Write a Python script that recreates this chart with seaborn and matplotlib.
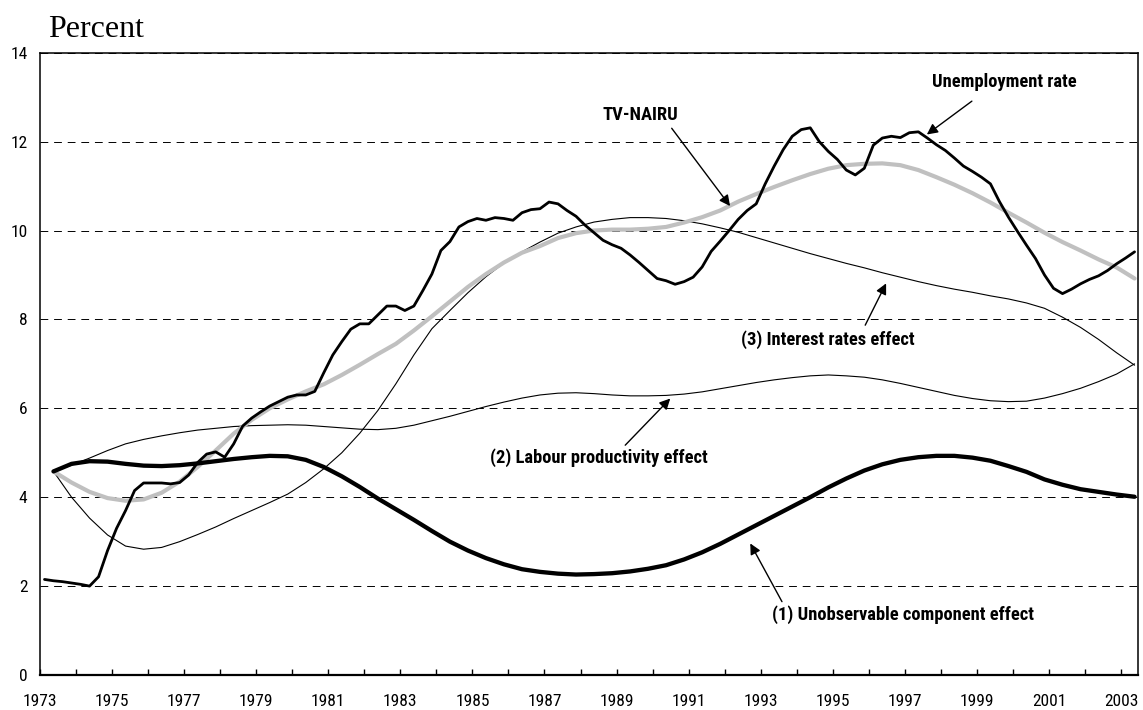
import numpy as np
import matplotlib
matplotlib.use("Agg")
import matplotlib.pyplot as plt
from matplotlib import font_manager as fm
import seaborn as sns

# ---------------- data ----------------
start_year = 1973
# quarterly unemployment rate, 1973Q1 .. 2003Q2
unemployment = [
    2.15, 2.12, 2.10, 2.07, 2.04, 2.00, 2.21, 2.80, 3.30, 3.70,
    4.15, 4.32, 4.32, 4.32, 4.30, 4.33, 4.50, 4.78, 4.97, 5.02,
    4.90, 5.20, 5.60, 5.78, 5.92, 6.05, 6.15, 6.25, 6.30, 6.30,
    6.38, 6.80, 7.20, 7.50, 7.78, 7.90, 7.90, 8.10, 8.30, 8.30,
    8.20, 8.30, 8.65, 9.02, 9.55, 9.75, 10.08, 10.20, 10.27, 10.23,
    10.29, 10.27, 10.23, 10.40, 10.47, 10.49, 10.64, 10.60, 10.45, 10.32,
    10.12, 9.95, 9.78, 9.68, 9.60, 9.45, 9.28, 9.10, 8.92, 8.87,
    8.79, 8.85, 8.95, 9.18, 9.53, 9.76, 10.00, 10.25, 10.45, 10.60,
    11.05, 11.45, 11.82, 12.12, 12.27, 12.31, 12.00, 11.78, 11.60, 11.36,
    11.25, 11.40, 11.92, 12.08, 12.12, 12.09, 12.20, 12.22, 12.08, 11.93,
    11.80, 11.63, 11.45, 11.33, 11.20, 11.05, 10.65, 10.30, 9.98, 9.67,
    9.37, 9.00, 8.70, 8.58, 8.68, 8.80, 8.90, 8.98, 9.10, 9.25,
    9.38, 9.52,
]
# half-yearly readings (1973Q2, 1973Q4, ... 2003Q2)
tv_nairu = [
    4.58, 4.33, 4.12, 3.98, 3.92, 3.95, 4.10, 4.35, 4.68, 5.05,
    5.43, 5.74, 6.00, 6.20, 6.38, 6.54, 6.75, 6.98, 7.22, 7.45,
    7.75, 8.07, 8.40, 8.73, 9.02, 9.28, 9.50, 9.65, 9.83, 9.94,
    10.00, 10.02, 10.02, 10.04, 10.08, 10.18, 10.30, 10.45, 10.65, 10.82,
    10.98, 11.13, 11.27, 11.39, 11.47, 11.50, 11.51, 11.47, 11.36, 11.20,
    11.03, 10.84, 10.63, 10.40, 10.18, 9.95, 9.74, 9.55, 9.35, 9.17,
    8.92,
]
unobservable = [
    4.58, 4.75, 4.81, 4.80, 4.75, 4.71, 4.70, 4.72, 4.76, 4.81,
    4.86, 4.90, 4.93, 4.92, 4.84, 4.68, 4.47, 4.23, 3.97, 3.73,
    3.49, 3.24, 3.00, 2.80, 2.63, 2.49, 2.38, 2.32, 2.28, 2.26,
    2.27, 2.29, 2.33, 2.39, 2.47, 2.60, 2.76, 2.95, 3.16, 3.37,
    3.58, 3.79, 4.00, 4.22, 4.42, 4.60, 4.74, 4.84, 4.90, 4.93,
    4.93, 4.89, 4.82, 4.70, 4.57, 4.40, 4.28, 4.18, 4.12, 4.06,
    4.01,
]
labour_productivity = [
    4.58, 4.72, 4.88, 5.05, 5.20, 5.30, 5.38, 5.45, 5.51, 5.55,
    5.59, 5.61, 5.62, 5.63, 5.62, 5.59, 5.56, 5.53, 5.52, 5.55,
    5.62, 5.72, 5.82, 5.93, 6.04, 6.14, 6.23, 6.30, 6.34, 6.35,
    6.33, 6.30, 6.28, 6.28, 6.29, 6.32, 6.37, 6.44, 6.51, 6.58,
    6.64, 6.69, 6.73, 6.75, 6.73, 6.70, 6.64, 6.56, 6.47, 6.38,
    6.29, 6.22, 6.17, 6.15, 6.16, 6.23, 6.33, 6.45, 6.60, 6.77,
    7.00,
]
interest_rates = [
    4.58, 4.00, 3.53, 3.15, 2.90, 2.83, 2.87, 3.00, 3.16, 3.33,
    3.52, 3.70, 3.88, 4.07, 4.33, 4.64, 5.00, 5.44, 5.95, 6.55,
    7.20, 7.79, 8.20, 8.60, 8.96, 9.27, 9.52, 9.74, 9.94, 10.08,
    10.19, 10.25, 10.29, 10.29, 10.27, 10.22, 10.15, 10.06, 9.96, 9.84,
    9.72, 9.60, 9.48, 9.37, 9.26, 9.16, 9.05, 8.95, 8.85, 8.76,
    8.68, 8.61, 8.53, 8.46, 8.37, 8.25, 8.05, 7.82, 7.55, 7.25,
    6.97,
]
year_labels = [str(y) for y in range(1973, 2004, 2)]
y_ticks = [0, 2, 4, 6, 8, 10, 12, 14]

# time index: quarter midpoints
x_q = start_year + (np.arange(len(unemployment)) + 0.5) / 4.0
x_h = start_year + (np.arange(len(tv_nairu)) * 2 + 1.5) / 4.0

# ---------------- style ----------------
sns.set_theme(style="white")


def pick(cands):
    for c in cands:
        try:
            fm.findfont(fm.FontProperties(family=c), fallback_to_default=False)
            return c
        except Exception:
            pass
    return "DejaVu Sans"


narrow = pick(["Liberation Sans Narrow", "Arial Narrow", "Roboto Condensed",
               "Liberation Sans", "DejaVu Sans"])
serif = pick(["Liberation Serif", "DejaVu Serif"])
plt.rcParams["font.family"] = [narrow, "DejaVu Sans"]

fig = plt.figure(figsize=(11.43, 7.10), dpi=100)
ax = fig.add_axes([40 / 1143, 35 / 710, 1098 / 1143, 622.3 / 710])

# lines
sns.lineplot(x=x_h, y=interest_rates, ax=ax, color="black", linewidth=0.8,
             estimator=None, sort=False)
sns.lineplot(x=x_h, y=labour_productivity, ax=ax, color="black", linewidth=0.8,
             estimator=None, sort=False)
sns.lineplot(x=x_h, y=tv_nairu, ax=ax, color="#c0c0c0", linewidth=3.0,
             estimator=None, sort=False)
sns.lineplot(x=x_h, y=unobservable, ax=ax, color="black", linewidth=3.1,
             estimator=None, sort=False)
sns.lineplot(x=x_q, y=unemployment, ax=ax, color="black", linewidth=2.0,
             estimator=None, sort=False)

ax.set_xlim(1973, 2003.47)
ax.set_ylim(0, 14)

# grid
ax.set_yticks(y_ticks)
ax.yaxis.grid(True, color="black", linewidth=0.7, linestyle=(0, (8, 6)))
ax.xaxis.grid(False)
ax.set_axisbelow(True)

# spines
for s in ["left", "top", "right"]:
    ax.spines[s].set_color("black")
    ax.spines[s].set_linewidth(1.1)
ax.spines["bottom"].set_color("black")
ax.spines["bottom"].set_linewidth(1.6)

# ticks
ax.set_xticks(list(range(1973, 2004, 2)))
ax.set_xticklabels(year_labels)
ax.set_xticks(list(range(1974, 2004, 2)), minor=True)
ax.tick_params(axis="x", which="both", direction="in", length=4, width=1,
               color="black", bottom=True, top=False, pad=14, labelsize=12.5,
               labelcolor="black")
ax.tick_params(axis="y", which="both", length=0, pad=9, labelsize=12.5,
               labelcolor="black")
ax.set_yticklabels([str(v) for v in y_ticks])
ax.set_xlabel("")
ax.set_ylabel("")

fig.text(48 / 1143, 1 - 37 / 710, "Percent", family=serif, fontsize=23,
         va="baseline", ha="left", color="black")

arrow = dict(arrowstyle="-|>", color="black", lw=1.0, mutation_scale=16,
             shrinkA=0, shrinkB=0)
tk = dict(fontsize=13.3, fontweight="bold", color="black",
          ha="center", va="center")

ax.annotate("", xy=(1992.15, 10.55), xytext=(1990.53, 12.30), arrowprops=arrow)
ax.text(1989.65, 12.6, "TV-NAIRU", **tk)

ax.annotate("", xy=(1997.61, 12.16), xytext=(1998.86, 12.91), arrowprops=arrow)
ax.text(1999.77, 13.34, "Unemployment rate", **tk)

ax.annotate("", xy=(1996.48, 8.81), xytext=(1995.9, 7.87), arrowprops=arrow)
ax.text(1994.86, 7.54, "(3) Interest rates effect", **tk)

ax.annotate("", xy=(1990.49, 6.22), xytext=(1989.24, 5.17), arrowprops=arrow)
ax.text(1988.51, 4.89, "(2) Labour productivity effect", **tk)

ax.annotate("", xy=(1992.71, 2.96), xytext=(1993.59, 1.65), arrowprops=arrow)
ax.text(1996.94, 1.35, "(1) Unobservable component effect", **tk)

fig.savefig("out.png", dpi=100)
